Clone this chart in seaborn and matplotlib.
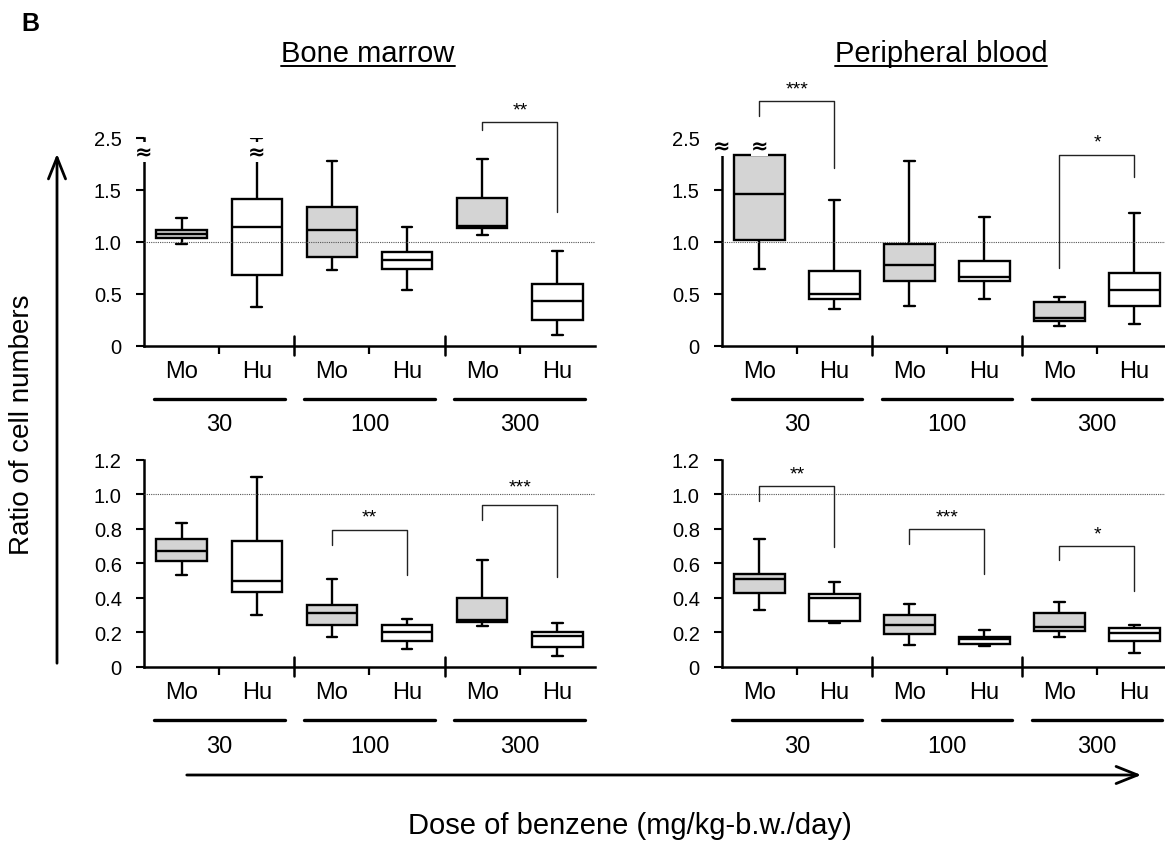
import numpy as np
import pandas as pd
import matplotlib
matplotlib.use("Agg")
import matplotlib.pyplot as plt
import seaborn as sns
from matplotlib.transforms import blended_transform_factory as btf
from matplotlib.patches import FancyArrowPatch
from matplotlib.lines import Line2D

# ---------------- data (five-number summaries) -------------
doses = ["30", "100", "300"]
species = ["Mo", "Hu"]

# Bone marrow, top row (display scale; top tick "2.5" sits at 2.0 after the axis break)
bm_top_lo  = [0.978, 0.372, 0.731, 0.538, 1.070, 0.109]
bm_top_q1  = [1.035, 0.683, 0.859, 0.737, 1.131, 0.247]
bm_top_med = [1.077, 1.141, 1.115, 0.824, 1.157, 0.436]
bm_top_q3  = [1.112, 1.413, 1.340, 0.904, 1.426, 0.593]
bm_top_hi  = [1.228, 2.000, 1.776, 1.147, 1.798, 0.917]

# Peripheral blood, top row
pb_top_lo  = [0.744, 0.359, 0.388, 0.449, 0.189, 0.212]
pb_top_q1  = [1.016, 0.449, 0.622, 0.622, 0.240, 0.388]
pb_top_med = [1.460, 0.503, 0.776, 0.667, 0.269, 0.535]
pb_top_q3  = [1.840, 0.721, 0.981, 0.817, 0.420, 0.699]
pb_top_hi  = [2.000, 1.400, 1.779, 1.243, 0.468, 1.279]

# Bone marrow, bottom row
bm_bot_lo  = [0.532, 0.300, 0.175, 0.106, 0.240, 0.064]
bm_bot_q1  = [0.611, 0.431, 0.241, 0.152, 0.260, 0.113]
bm_bot_med = [0.672, 0.497, 0.314, 0.205, 0.270, 0.181]
bm_bot_q3  = [0.742, 0.728, 0.356, 0.245, 0.399, 0.200]
bm_bot_hi  = [0.832, 1.096, 0.510, 0.280, 0.618, 0.254]

# Peripheral blood, bottom row
pb_bot_lo  = [0.328, 0.257, 0.127, 0.120, 0.173, 0.081]
pb_bot_q1  = [0.430, 0.266, 0.191, 0.133, 0.208, 0.149]
pb_bot_med = [0.507, 0.397, 0.241, 0.164, 0.231, 0.197]
pb_bot_q3  = [0.540, 0.420, 0.303, 0.172, 0.310, 0.228]
pb_bot_hi  = [0.742, 0.494, 0.362, 0.214, 0.374, 0.243]

top_ticks = [0, 0.5, 1.0, 1.5, 2.0]
top_ticklabels = ["0", "0.5", "1.0", "1.5", "2.5"]
bot_ticks = [0, 0.2, 0.4, 0.6, 0.8, 1.0, 1.2]
bot_ticklabels = ["0", "0.2", "0.4", "0.6", "0.8", "1.0", "1.2"]

# significance brackets: (left box, right box, top, left leg end, right leg end, label, label y)
bm_top_sig = [(4, 5, 2.15, 2.08, 1.285, "**", 2.27)]
pb_top_sig = [(0, 1, 2.356, 2.214, 1.708, "***", 2.47),
              (4, 5, 1.837, 0.747, 1.622, "*", 1.96)]
bm_bot_sig = [(2, 3, 0.795, 0.707, 0.534, "**", 0.865),
              (4, 5, 0.938, 0.851, 0.522, "***", 1.04)]
pb_bot_sig = [(0, 1, 1.046, 0.960, 0.696, "**", 1.115),
              (2, 3, 0.796, 0.709, 0.536, "***", 0.865),
              (4, 5, 0.700, 0.619, 0.440, "*", 0.77)]

# axis-break marks (box index or -0.5 for the spine, y)
bm_top_breaks = [(-0.5, 1.865), (1, 1.865)]
pb_top_breaks = [(-0.5, 1.92), (0, 1.92)]

# ---------------- style -----------------
sns.set_style("ticks")
plt.rcParams["font.family"] = ["Liberation Sans", "DejaVu Sans"]
plt.rcParams["axes.linewidth"] = 1.8
for k in ("text.color", "xtick.color", "ytick.color", "axes.labelcolor", "axes.edgecolor"):
    plt.rcParams[k] = "black"

W, H = 1165, 845
fig = plt.figure(figsize=(W / 100, H / 100), dpi=100)

box_order = [f"{d} {s}" for d in doses for s in species]


def make_df(lo, q1, med, q3, hi):
    rows = []
    for i, name in enumerate(box_order):
        sp = name.split()[1]
        for v in (lo[i], q1[i], med[i], q3[i], hi[i]):
            rows.append({"box": name, "species": sp, "value": v})
    return pd.DataFrame(rows)


def px_rect(x0, x1, y_bottom_px, y_top_px):
    return [x0 / W, 1 - y_bottom_px / H, (x1 - x0) / W, (y_bottom_px - y_top_px) / H]


panels = [
    (px_rect(144, 595, 347, 139), (bm_top_lo, bm_top_q1, bm_top_med, bm_top_q3, bm_top_hi),
     (0, 2.0), top_ticks, top_ticklabels, bm_top_sig, bm_top_breaks, 5.5, 400, 425),
    (px_rect(722, 1165, 347, 139), (pb_top_lo, pb_top_q1, pb_top_med, pb_top_q3, pb_top_hi),
     (0, 2.0), top_ticks, top_ticklabels, pb_top_sig, pb_top_breaks, 5.407, 400, 425),
    (px_rect(144, 595, 668, 460.5), (bm_bot_lo, bm_bot_q1, bm_bot_med, bm_bot_q3, bm_bot_hi),
     (0, 1.2), bot_ticks, bot_ticklabels, bm_bot_sig, [], 5.5, 721, 747),
    (px_rect(722, 1165, 668, 460.5), (pb_bot_lo, pb_bot_q1, pb_bot_med, pb_bot_q3, pb_bot_hi),
     (0, 1.2), bot_ticks, bot_ticklabels, pb_bot_sig, [], 5.407, 721, 747),
]

for rect, stats, ylim, ticks, tlabels, sigs, breaks, xr, bar_y, dose_y in panels:
    ax = fig.add_axes(rect)
    df = make_df(*stats)
    sns.boxplot(data=df, x="box", y="value", hue="species", order=box_order,
                hue_order=species, palette={"Mo": "#d4d4d4", "Hu": "white"},
                dodge=False, width=0.67, linewidth=1.7, linecolor="black",
                whis=(0, 100), showfliers=False, saturation=1, legend=False,
                ax=ax, capwidths=0.14)
    ax.set_xlabel("")
    ax.set_ylabel("")
    ax.set_xlim(-0.5, xr)
    ax.set_ylim(*ylim)
    ax.set_facecolor("none")
    for s in ("top", "right"):
        ax.spines[s].set_visible(False)
    ax.spines["left"].set_linewidth(1.8)
    ax.spines["bottom"].set_linewidth(1.8)

    ax.set_xticks(range(6))
    ax.set_xticklabels([s for d in doses for s in species])
    ax.set_xticks([0.5, 2.5, 4.5], minor=True)
    ax.tick_params(axis="x", which="major", length=0, pad=10, labelsize=17)
    ax.tick_params(axis="x", which="minor", length=6, width=1.6, direction="out")
    ax.set_yticks(ticks)
    ax.set_yticklabels(tlabels)
    ax.tick_params(axis="y", which="major", length=6, width=1.5, pad=10, labelsize=14.5)

    # reference line at 1.0
    ax.axhline(1.0, ls=(0, (1, 1)), lw=0.8, color="#555555", zorder=3)

    # group separators crossing the x-axis
    tr = btf(ax.transData, ax.transAxes)
    for xs in (1.5, 3.5):
        ax.add_line(Line2D([xs, xs], [-0.045, 0.048], transform=tr, clip_on=False,
                           color="black", lw=1.8))

    # dose group underlines and labels
    trf = btf(ax.transData, fig.transFigure)
    for g, d in enumerate(doses):
        c = 2 * g + 0.5
        ax.add_line(Line2D([c - 0.87, c + 0.87], [1 - bar_y / H] * 2, transform=trf,
                           clip_on=False, color="black", lw=2.4))
        ax.text(c, 1 - dose_y / H, d, transform=trf, ha="center", va="center",
                fontsize=17)

    # significance brackets
    for x1, x2, yt, yl, yr, lab, ly in sigs:
        ax.plot([x1, x1, x2, x2], [yl, yt, yt, yr], color="#222222", lw=1.0,
                clip_on=False, zorder=4)
        ax.text((x1 + x2) / 2, ly, lab, ha="center", va="center", fontsize=14,
                clip_on=False)

    # axis-break symbols
    for bx, by in breaks:
        ax.text(bx, by, "\u2248", ha="center", va="center", fontsize=15,
                fontweight="bold", family="DejaVu Sans", zorder=6, clip_on=False,
                bbox=dict(boxstyle="square,pad=0.0", fc="white", ec="none"))

# ---------------- figure-level text and arrows -----------------
fig.text(30 / W, 1 - 24 / H, "B", fontsize=18, fontweight="bold", ha="center", va="center")
titles = [fig.text(368 / W, 1 - 54 / H, "Bone marrow", fontsize=21, ha="center", va="center"),
          fig.text(941 / W, 1 - 54 / H, "Peripheral blood", fontsize=21, ha="center", va="center")]

fig.text(22 / W, 1 - 425 / H, "Ratio of cell numbers", rotation=90, fontsize=20,
         ha="center", va="center")
fig.text(630 / W, 1 - 826 / H, "Dose of benzene (mg/kg-b.w./day)", fontsize=21,
         ha="center", va="center")

fig.add_artist(FancyArrowPatch((57 / W, 1 - 667 / H), (57 / W, 1 - 152 / H),
                               transform=fig.transFigure,
                               arrowstyle="->,head_length=0.7,head_width=0.28",
                               mutation_scale=22, lw=2, color="black"))
fig.add_artist(FancyArrowPatch((184 / W, 1 - 776 / H), (1144 / W, 1 - 776 / H),
                               transform=fig.transFigure,
                               arrowstyle="->,head_length=0.7,head_width=0.28",
                               mutation_scale=22, lw=2, color="black"))

# underline the titles
fig.canvas.draw()
renderer = fig.canvas.get_renderer()
for t in titles:
    bb = t.get_window_extent(renderer).transformed(fig.transFigure.inverted())
    yline = 1 - 67 / H
    fig.add_artist(Line2D([bb.x0, bb.x1], [yline, yline], transform=fig.transFigure,
                          color="black", lw=1.4))

fig.savefig("out.png", dpi=100)
